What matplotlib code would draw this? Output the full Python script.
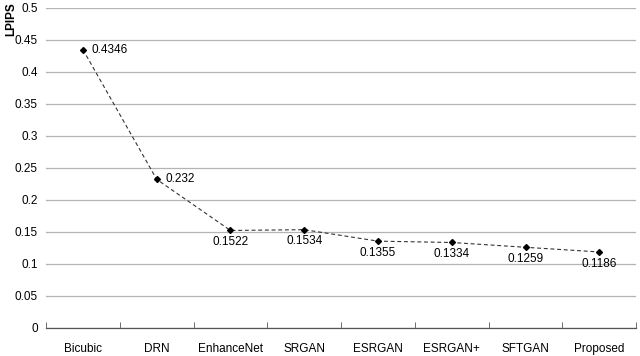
import matplotlib
matplotlib.use("Agg")
import matplotlib.pyplot as plt
import numpy as np

plt.rcParams['font.family'] = ['Liberation Sans', 'DejaVu Sans']

methods = ["Bicubic", "DRN", "EnhanceNet", "SRGAN", "ESRGAN", "ESRGAN+", "SFTGAN", "Proposed"]
lpips = [0.4346, 0.232, 0.1522, 0.1534, 0.1355, 0.1334, 0.1259, 0.1186]
yticks = [0, 0.05, 0.1, 0.15, 0.2, 0.25, 0.3, 0.35, 0.4, 0.45, 0.5]

fig = plt.figure(figsize=(6.4, 3.56), dpi=100)
ax = fig.add_axes([0.072, 0.079, 0.922, 0.899])

x = np.arange(len(methods))
ax.plot(x, lpips, linestyle=(0, (3.5, 2.5)), color='#333333', linewidth=0.8,
        marker='D', markersize=3, markerfacecolor='black', markeredgecolor='black', zorder=3)

for i, v in enumerate(lpips):
    if i < 2:
        ax.annotate(f"{v:g}", (i, v), xytext=(6, 0), textcoords='offset points',
                    ha='left', va='center', fontsize=8.5)
    else:
        ax.annotate(f"{v:g}", (i, v), xytext=(0, -4), textcoords='offset points',
                    ha='center', va='top', fontsize=8.5)

ax.set_xlim(-0.5, len(methods) - 0.5)
ax.set_ylim(0, 0.5)
ax.set_yticks(yticks)
ax.set_yticklabels([f"{t:g}" for t in yticks], fontsize=8.5)
ax.yaxis.grid(True, color='#b3b3b3', linewidth=0.9)
ax.set_axisbelow(True)
ax.tick_params(axis='y', length=0, pad=6)

ax.set_xticks(x)
ax.set_xticklabels(methods, fontsize=8.5)
ax.set_xticks(np.arange(len(methods) + 1) - 0.5, minor=True)
ax.tick_params(axis='x', which='major', length=0, pad=11)
ax.tick_params(axis='x', which='minor', length=4, direction='in', color='#555555')

for s in ['top', 'right', 'left']:
    ax.spines[s].set_visible(False)
ax.spines['bottom'].set_color('#555555')
ax.spines['bottom'].set_linewidth(0.9)

fig.text(0.008, 0.995, "LPIPS", rotation=90, fontsize=8.5, fontweight='bold', ha='left', va='top')

fig.savefig("out.png", dpi=100)
